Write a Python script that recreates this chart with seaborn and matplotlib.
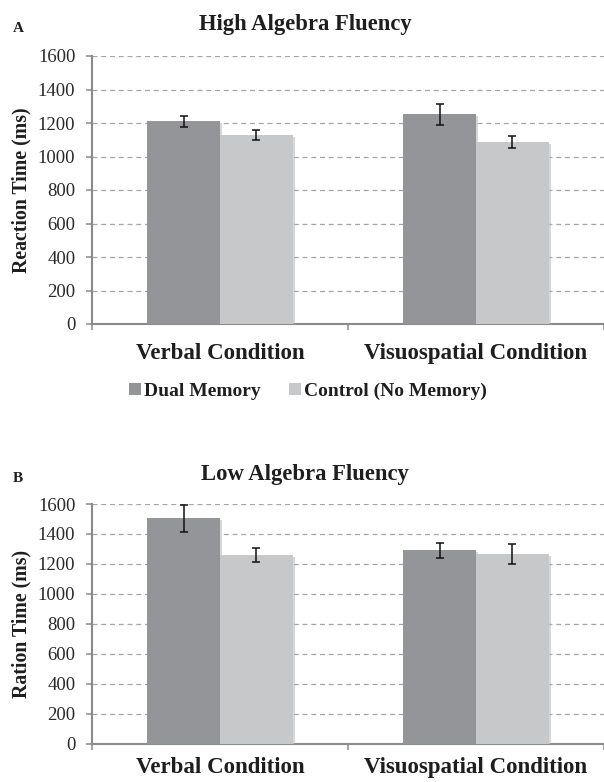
import matplotlib
matplotlib.use("Agg")
import matplotlib.pyplot as plt
import matplotlib.patheffects as pe
from matplotlib.patches import Patch
from matplotlib.ticker import FixedLocator
import seaborn as sns
import pandas as pd

# ---------------- data ----------------
conditions = ["Verbal Condition", "Visuospatial Condition"]
memory_levels = ["Dual Memory", "Control (No Memory)"]

high_dual = [1211, 1252]
high_dual_err = [33, 62]
high_ctrl = [1129, 1086]
high_ctrl_err = [30, 37]

low_dual = [1504, 1293]
low_dual_err = [91, 50]
low_ctrl = [1258, 1266]
low_ctrl_err = [47, 68]

panel_titles = ["High Algebra Fluency", "Low Algebra Fluency"]
panel_letters = ["A", "B"]
y_labels = ["Reaction Time (ms)", "Ration Time (ms)"]
y_ticks = [0, 200, 400, 600, 800, 1000, 1200, 1400, 1600]

colors = ["#939598", "#c7c8ca"]

# ---------------- style ----------------
sns.set_theme(style="white")
plt.rcParams["font.family"] = ["Liberation Serif", "DejaVu Serif"]

W, H = 604, 782
fig = plt.figure(figsize=(W / 100, H / 100), dpi=100)

def fx(px):
    return px / W

def fy(py):
    return 1 - py / H

panels = [
    dict(dual=high_dual, dual_err=high_dual_err, ctrl=high_ctrl, ctrl_err=high_ctrl_err,
         top=56, bottom=324, title_base=30, letter_base=32, xpad=14),
    dict(dual=low_dual, dual_err=low_dual_err, ctrl=low_ctrl, ctrl_err=low_ctrl_err,
         top=504, bottom=744, title_base=480, letter_base=482, xpad=9.5),
]

axis_gray = "#8a8a8a"
text_col = "#1e1e1e"

for i, p in enumerate(panels):
    left, right = 92, 604
    ax = fig.add_axes([fx(left), fy(p["bottom"]), fx(right - left), (p["bottom"] - p["top"]) / H])
    df = pd.DataFrame({
        "condition": conditions * 2,
        "memory": [memory_levels[0]] * 2 + [memory_levels[1]] * 2,
        "rt": list(p["dual"]) + list(p["ctrl"]),
    })
    sns.barplot(data=df, x="condition", y="rt", hue="memory", order=conditions,
                hue_order=memory_levels, palette=colors, width=0.57, errorbar=None,
                saturation=1, legend=False, ax=ax, zorder=3)
    for patch in ax.patches:
        patch.set_edgecolor("none")
        patch.set_path_effects([pe.SimplePatchShadow(offset=(1.5, -1.5), shadow_rgbFace="#bdbdbd", alpha=0.6),
                                pe.Normal()])
    errs = [p["dual_err"], p["ctrl_err"]]
    vals = [p["dual"], p["ctrl"]]
    for cont, v, e in zip(ax.containers, vals, errs):
        xs = [b.get_x() + b.get_width() / 2 for b in cont]
        ax.errorbar(xs, v, yerr=e, fmt="none", ecolor="#111111", elinewidth=1.1,
                    capsize=3.0, capthick=1.1, zorder=5)

    ax.set_xlim(-0.5, 1.5)
    ax.set_ylim(0, 1600)
    ax.set_yticks(y_ticks)
    ax.set_yticklabels([str(t) for t in y_ticks], fontsize=13.5, color="#2a2a2a")
    ax.yaxis.grid(True, linestyle=(0, (4, 3)), color="#a6a6a6", linewidth=0.9)
    ax.xaxis.grid(False)
    ax.set_axisbelow(True)

    ax.set_xticks([0, 1])
    ax.set_xticklabels(conditions, fontsize=16.5, fontweight="bold", color=text_col)
    ax.xaxis.set_minor_locator(FixedLocator([-0.5, 0.5, 1.5]))
    ax.tick_params(axis="x", which="major", length=0, pad=p["xpad"])
    ax.tick_params(axis="x", which="minor", length=4.5, width=1.1, color=axis_gray, direction="out", bottom=True)
    ax.tick_params(axis="y", which="major", length=4, width=1.1, color=axis_gray, direction="out", left=True, pad=8)

    for s in ["top", "right"]:
        ax.spines[s].set_visible(False)
    for s in ["left", "bottom"]:
        ax.spines[s].set_color(axis_gray)
        ax.spines[s].set_linewidth(1.5)
    ax.set_xlabel("")
    ax.set_ylabel("")

    fig.text(fx(21), fy((p["top"] + p["bottom"]) / 2), y_labels[i], rotation=90,
             ha="center", va="center", fontsize=14.2, fontweight="bold", color=text_col)
    fig.text(fx(305), fy(p["title_base"]), panel_titles[i], ha="center", va="baseline",
             fontsize=16.3, fontweight="bold", color=text_col)
    fig.text(fx(13), fy(p["letter_base"]), panel_letters[i], ha="left", va="baseline",
             fontsize=11, fontweight="bold", color=text_col)

handles = [Patch(facecolor=c, edgecolor="none") for c in colors]
fig.legend(handles, memory_levels, loc="center", bbox_to_anchor=(fx(308), fy(391)), ncol=2,
           frameon=False, prop={"family": "Liberation Serif", "weight": "bold", "size": 14},
           handlelength=0.6, handleheight=0.6, handletextpad=0.15, columnspacing=1.5,
           labelcolor=text_col)

fig.savefig("out.png", dpi=100)
